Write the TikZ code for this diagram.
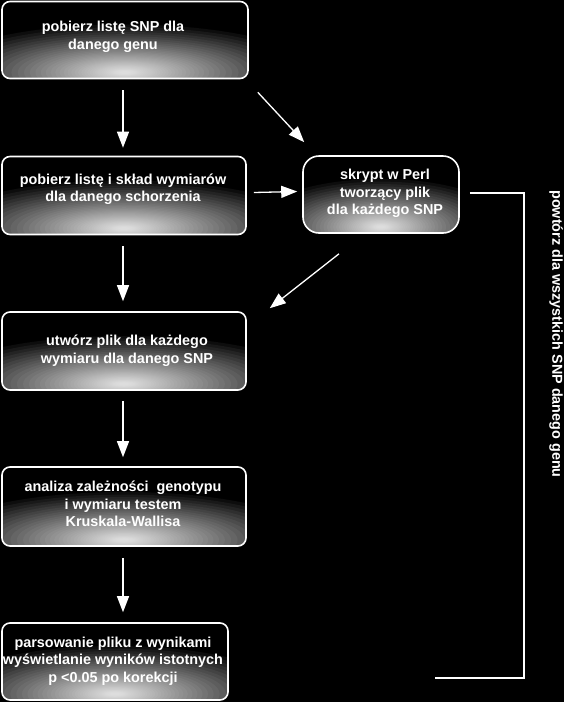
\documentclass[tikz,border=0pt]{standalone}
\usepackage{fontspec}
\setmainfont{Liberation Sans}
\usetikzlibrary{arrows.meta}
\newcommand\boxglow[2]{%
  \foreach \j in {1,...,45}{%
    \pgfmathsetmacro\gf{1-(1-0.95^(\j-1))/0.92}%
    \fill[white,opacity=0.05] ([yshift=6pt]path picture bounding box.south) ellipse [x radius=\gf*#1, y radius=\gf*#2];
  }}
\begin{document}
\begin{tikzpicture}[x=1pt,y=-1pt,
  box/.style={draw=white, line width=1.6pt, rounded corners=8pt, fill=black, inner sep=0pt,
    path picture={\boxglow{#1}{48pt}}},
  box/.default=190pt,
  txt/.style={text=white, font=\bfseries\fontsize{14.4}{17.5}\selectfont, align=center, inner sep=0pt},
  arr/.style={white, line width=1.3pt, -{Triangle[length=16pt,width=12pt]}},
  bracket/.style={white, line width=1.5pt},
]
\useasboundingbox (0,0) rectangle (564,702);
\fill[black] (0,0) rectangle (564,702);

% boxes
\node[box, minimum width=246pt, minimum height=77pt] (b1) at (125,40) {};
\node[box, minimum width=244pt, minimum height=78pt] (b2) at (124,195.5) {};
\node[box=130pt, rounded corners=16pt, minimum width=156pt, minimum height=77pt] (perl) at (381,194.5) {};
\node[box, minimum width=244pt, minimum height=78pt] (b3) at (124,351) {};
\node[box, minimum width=244pt, minimum height=79pt] (b4) at (124,506.5) {};
\node[box=175pt, minimum width=226pt, minimum height=77pt] (b5) at (115,661.5) {};

% texts
\node[txt] (t1) at (113,37) {pobierz listę SNP dla\\danego genu};
\node[txt] (t2) at (123,189) {pobierz listę i skład wymiarów\\dla danego schorzenia};
\node[txt] (tp) at (385,193.5) {skrypt w Perl\\tworzący plik\\dla każdego SNP};
\node[txt] (t3) at (127,350.5) {utwórz plik dla każdego\\wymiaru dla danego SNP};
\node[txt] (t4) at (123,504) {analiza zależności\ \ genotypu\\i wymiaru testem\\Kruskala-Wallisa};
\node[txt] (t5) at (113,661) {parsowanie pliku z wynikami\\wyświetlanie wyników istotnych\\p <0.05 po korekcji};
\node[txt, rotate=-90] (rep) at (556,334) {powtórz dla wszystkich SNP danego genu};

% arrows
\draw[arr] ([xshift=-2pt,yshift=-11pt]b1.south) -- ([xshift=-1pt,yshift=8pt]b2.north);
\draw[arr] ([xshift=-1pt,yshift=-11pt]b2.south) -- ([xshift=-1pt,yshift=10pt]b3.north);
\draw[arr] ([xshift=-1pt,yshift=-10pt]b3.south) -- ([xshift=-1pt,yshift=9pt]b4.north);
\draw[arr] ([xshift=-1pt,yshift=-11pt]b4.south) -- ([xshift=8pt,yshift=10pt]b5.north);
\draw[arr] ([xshift=9pt,yshift=-13pt]b1.south east) -- ([xshift=2pt,yshift=13pt]perl.north west);
\draw[arr] ([xshift=7pt,yshift=3pt]b2.east) -- ([xshift=-5pt,yshift=3pt]perl.west);
\draw[arr] ([xshift=-42pt,yshift=-20pt]perl.south) -- ([xshift=23pt,yshift=3pt]b3.north east);

% bracket
\coordinate (bend) at (435,678);
\draw[bracket] ([xshift=10pt,yshift=1.5pt]perl.east) -- (524,193) |- (bend);
\end{tikzpicture}
\end{document}
